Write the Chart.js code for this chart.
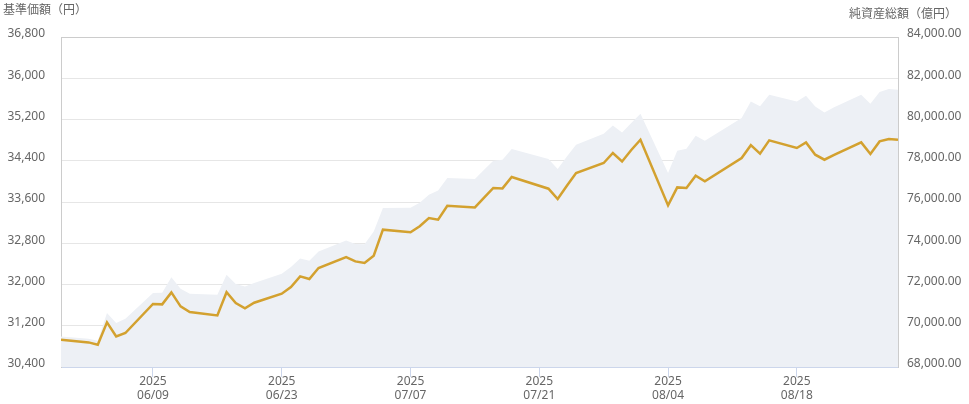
<!DOCTYPE html>
<html lang="ja">
<head>
<meta charset="UTF-8">
<title>基準価額・純資産総額</title>
<script src="https://cdn.jsdelivr.net/npm/chart.js"></script>
<style>
    body {
        margin: 0;
        padding: 0;
        background: #ffffff;
        font-family: 'Noto Sans', 'Noto Sans CJK JP', sans-serif;
    }
    .wrap {
        position: relative;
        width: 969px;
        height: 404px;
    }
    .axis-title {
        position: absolute;
        font-size: 12px;
        line-height: 14px;
        color: #666;
        font-family: 'Noto Sans CJK JP', sans-serif;
        white-space: nowrap;
    }
    #titleLeft { left: 3px; top: 2px; }
    #titleRight { right: 12px; top: 6px; }
</style>
</head>
<body>
<div class="wrap">
    <canvas id="chart" width="969" height="404"></canvas>
    <div class="axis-title" id="titleLeft">基準価額（円）</div>
    <div class="axis-title" id="titleRight">純資産総額（億円）</div>
</div>

<script>
    // business days, 2025
    const dates = [
        "05/30",
        "06/02", "06/03", "06/04", "06/05", "06/06",
        "06/09", "06/10", "06/11", "06/12", "06/13",
        "06/16", "06/17", "06/18", "06/19", "06/20",
        "06/23", "06/24", "06/25", "06/26", "06/27",
        "06/30", "07/01", "07/02", "07/03", "07/04",
        "07/07", "07/08", "07/09", "07/10", "07/11",
        "07/14", "07/15", "07/16", "07/17", "07/18",
        "07/22", "07/23", "07/24", "07/25",
        "07/28", "07/29", "07/30", "07/31", "08/01",
        "08/04", "08/05", "08/06", "08/07", "08/08",
        "08/12", "08/13", "08/14", "08/15",
        "08/18", "08/19", "08/20", "08/21", "08/22",
        "08/25", "08/26", "08/27", "08/28", "08/29"
    ];

    // 基準価額（円）
    const navValues = [
        30929,
        30877, 30832, 31265, 30993, 31059,
        31622, 31615, 31847, 31575, 31467,
        31401, 31851, 31641, 31540, 31647,
        31822, 31952, 32157, 32107, 32320,
        32533, 32448, 32417, 32559, 33063,
        33014, 33131, 33290, 33257, 33528,
        33495, 33683, 33872, 33864, 34085,
        33858, 33658, 33916, 34162,
        34356, 34550, 34387, 34608, 34808,
        33534, 33883, 33872, 34110, 34000,
        34453, 34702, 34537, 34795,
        34647, 34756, 34517, 34420, 34511,
        34756, 34531, 34775, 34822, 34808
    ];

    // 純資産総額（億円）
    const aumValues = [
        69484,
        69372, 69275, 70618, 70133, 70342,
        71588, 71600, 72354, 71796, 71554,
        71505, 72475, 72024, 71908, 72073,
        72524, 72849, 73265, 73154, 73605,
        74138, 73964, 73950, 74575, 75709,
        75720, 75966, 76354, 76563, 77164,
        77115, 77566, 78002, 78051, 78570,
        78085, 77600, 78206, 78778,
        79312, 79714, 79375, 79835, 80281,
        77406, 78487, 78584, 79215, 78972,
        80073, 80878, 80645, 81202,
        80878, 81154, 80635, 80344, 80577,
        81202, 80766, 81333, 81479, 81445
    ];

    const tickYear = "2025";
    const tickLabels = ["06/09", "06/23", "07/07", "07/21", "08/04", "08/18"];

    function dayIndex(md) {
        const [m, d] = md.split("/").map(Number);
        return (Date.UTC(2025, m - 1, d) - Date.UTC(2025, 4, 30)) / 86400000;
    }

    const navData = dates.map((d, i) => ({ x: dayIndex(d), y: navValues[i] }));
    const aumData = dates.map((d, i) => ({ x: dayIndex(d), y: aumValues[i] }));
    const tickDays = tickLabels.map(dayIndex);

    const labelFont = { family: "'Noto Sans', 'Noto Sans CJK JP', sans-serif", size: 12 };

    new Chart(document.getElementById("chart"), {
        type: 'line',
        data: {
            datasets: [
                {
                    label: '基準価額',
                    data: navData,
                    yAxisID: 'y',
                    borderColor: '#d3a12f',
                    borderWidth: 2.5,
                    pointRadius: 0,
                    tension: 0,
                    fill: false,
                    order: 1
                },
                {
                    label: '純資産総額',
                    data: aumData,
                    yAxisID: 'y1',
                    borderWidth: 0,
                    borderColor: 'rgba(0,0,0,0)',
                    backgroundColor: '#edf0f5',
                    pointRadius: 0,
                    tension: 0,
                    fill: 'start',
                    order: 2
                }
            ]
        },
        options: {
            responsive: false,
            animation: false,
            layout: { padding: { top: 37, left: 0, right: 0, bottom: 0 } },
            plugins: {
                legend: { display: false },
                tooltip: { enabled: false }
            },
            scales: {
                x: {
                    type: 'linear',
                    min: 0,
                    max: 91,
                    afterBuildTicks: scale => {
                        scale.ticks = tickDays.map(v => ({ value: v }));
                    },
                    afterFit: scale => { scale.height = 37; },
                    grid: {
                        drawOnChartArea: false,
                        drawTicks: true,
                        tickLength: 10,
                        color: '#ccd6eb'
                    },
                    border: { color: '#ccd6eb' },
                    ticks: {
                        autoSkip: false,
                        maxRotation: 0,
                        padding: -3,
                        color: '#666',
                        font: { ...labelFont, lineHeight: 1.2 },
                        callback: value => {
                            const i = tickDays.indexOf(value);
                            return i >= 0 ? [tickYear, tickLabels[i]] : '';
                        }
                    }
                },
                y: {
                    position: 'left',
                    min: 30400,
                    max: 36800,
                    afterFit: scale => { scale.width = 61; },
                    grid: {
                        drawTicks: false,
                        color: ctx => {
                            if (ctx.tick && ctx.tick.value === 36800) return '#cccccc';
                            if (ctx.tick && ctx.tick.value === 30400) return '#ccd6eb';
                            return '#e6e6e6';
                        }
                    },
                    border: { color: '#cccccc' },
                    ticks: {
                        stepSize: 800,
                        padding: 16,
                        labelOffset: -3,
                        color: '#666',
                        font: labelFont,
                        callback: v => v.toLocaleString('en-US')
                    }
                },
                y1: {
                    position: 'right',
                    min: 68000,
                    max: 84000,
                    afterFit: scale => { scale.width = 71; },
                    grid: { drawOnChartArea: false, drawTicks: false },
                    border: { color: '#cccccc' },
                    ticks: {
                        stepSize: 2000,
                        padding: 9,
                        labelOffset: -3,
                        color: '#666',
                        font: labelFont,
                        callback: v => v.toLocaleString('en-US', { minimumFractionDigits: 2, maximumFractionDigits: 2 })
                    }
                }
            }
        }
    });
</script>
</body>
</html>
